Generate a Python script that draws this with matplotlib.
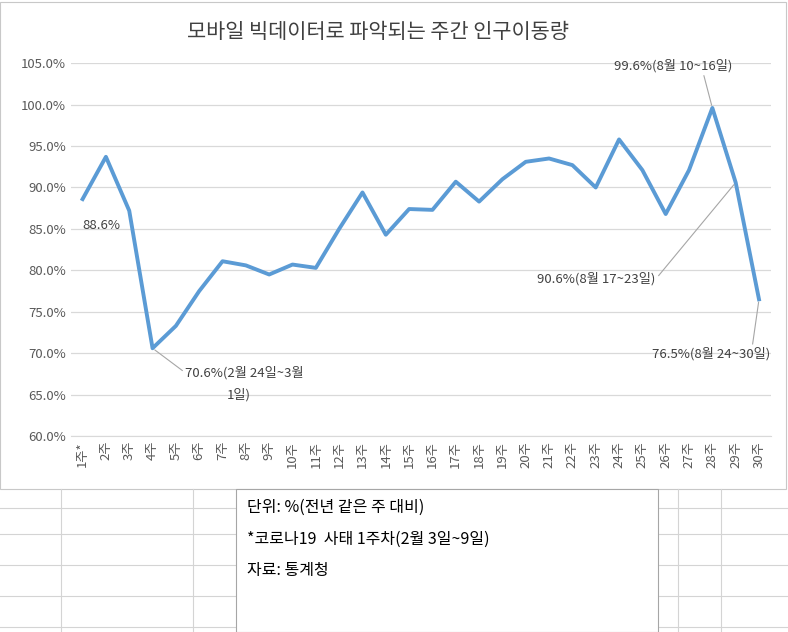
import matplotlib.pyplot as plt
import matplotlib.patches as patches

plt.rcParams['font.family'] = ['Noto Sans CJK JP', 'Noto Sans CJK KR', 'Noto Sans CJK SC', 'DejaVu Sans']

weeks = ['1주*'] + [f'{i}주' for i in range(2, 31)]
values = [88.6, 93.7, 87.2, 70.6, 73.3, 77.5, 81.1, 80.6, 79.5, 80.7,
          80.3, 85.0, 89.4, 84.3, 87.4, 87.3, 90.7, 88.3, 91.0, 93.1,
          93.5, 92.7, 90.0, 95.8, 92.1, 86.8, 92.1, 99.6, 90.6, 76.5]
yticks = [60, 65, 70, 75, 80, 85, 90, 95, 100, 105]

fig = plt.figure(figsize=(7.88, 6.32), dpi=100)

# spreadsheet cell lines below the chart
for y in [0.196, 0.155, 0.106, 0.057, 0.008]:
    fig.add_artist(plt.Line2D([0, 1], [y, y], color='#d4d4d4', lw=0.8))
for x in [0.077, 0.245, 0.86, 0.915]:
    fig.add_artist(plt.Line2D([x, x], [0, 0.227], color='#d4d4d4', lw=0.8))
fig.add_artist(patches.Rectangle((0, 0.227), 0.997, 0.77, transform=fig.transFigure,
                                 fill=False, edgecolor='#c8c8c8', lw=0.8))

ax = fig.add_axes([0.09, 0.31, 0.888, 0.59])
x = range(len(weeks))
ax.plot(x, values, color='#5b9bd5', lw=2.8)
ax.set_ylim(60, 105)
ax.set_yticks(yticks)
ax.set_yticklabels([f'{v:.1f}%' for v in yticks], fontsize=9.5, color='#595959')
ax.set_xlim(-0.5, len(weeks) - 0.5)
ax.set_xticks(list(x))
ax.set_xticklabels(weeks, rotation=90, fontsize=9.5, color='#595959')
ax.grid(axis='y', color='#d9d9d9', lw=0.9)
ax.set_axisbelow(True)
for s in ['top', 'right', 'left']:
    ax.spines[s].set_visible(False)
ax.spines['bottom'].set_color('#d9d9d9')
ax.tick_params(length=0)
fig.text(0.48, 0.94, '모바일 빅데이터로 파악되는 주간 인구이동량', ha='center',
         fontsize=15, color='#404040')

lbl = dict(fontsize=9.5, color='#404040')
ax.annotate('88.6%', (0, values[0]), xytext=(0, 85), **lbl)
ax.annotate('70.6%(2월 24일~3월', (3, values[3]), xytext=(4.4, 67.2),
            arrowprops=dict(arrowstyle='-', color='#a6a6a6', lw=0.8,
                            shrinkA=0, shrinkB=2, relpos=(0, 0.5)), **lbl)
ax.text(6.2, 64.5, '1일)', **lbl)
ax.annotate('99.6%(8월 10~16일)', (27, values[27]), xytext=(22.8, 104.2),
            arrowprops=dict(arrowstyle='-', color='#a6a6a6', lw=0.8,
                            shrinkA=0, shrinkB=2, relpos=(0.75, 0)), **lbl)
ax.annotate('90.6%(8월 17~23일)', (28, values[28]), xytext=(19.5, 78.5),
            arrowprops=dict(arrowstyle='-', color='#a6a6a6', lw=0.8,
                            shrinkA=0, shrinkB=2, relpos=(1, 0.5)), **lbl)
ax.annotate('76.5%(8월 24~30일)', (29, values[29]), xytext=(24.4, 69.5),
            arrowprops=dict(arrowstyle='-', color='#a6a6a6', lw=0.8,
                            shrinkA=0, shrinkB=2, relpos=(0.85, 1)), **lbl)

fig.add_artist(patches.Rectangle((0.3, 0.0), 0.535, 0.227, transform=fig.transFigure,
                                 facecolor='white', edgecolor='#a6a6a6', lw=0.8, zorder=5))
for i, t in enumerate(['단위: %(전년 같은 주 대비)', '*코로나19  사태 1주차(2월 3일~9일)', '자료: 통계청']):
    fig.text(0.313, 0.19 - i * 0.05, t, fontsize=11.5, color='black', zorder=6)

fig.savefig('out.png')
